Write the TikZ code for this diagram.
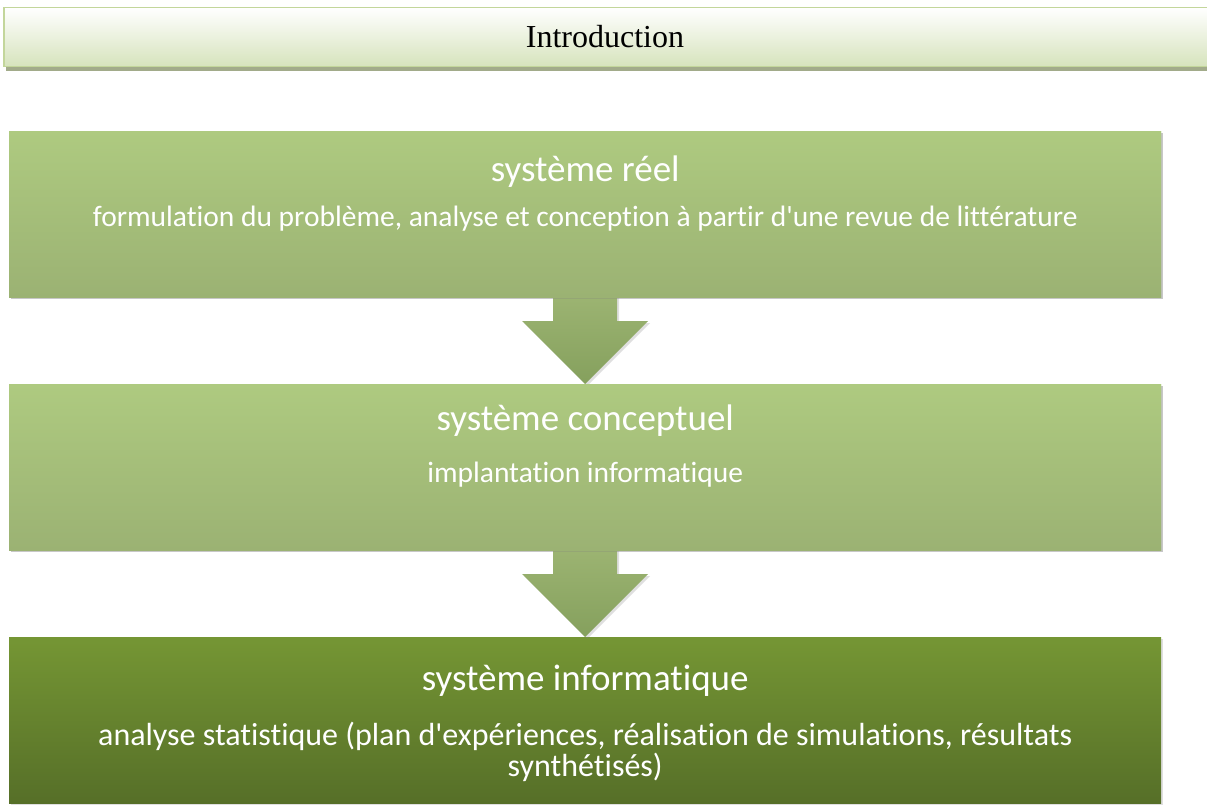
\documentclass[tikz,border=0pt]{standalone}
\usepackage{fontspec}
\setmainfont{Carlito}[Ligatures={TeXOff,NoCommon}]
\newfontfamily\introfont{Liberation Serif}
\usetikzlibrary{positioning,shadows,calc}

\definecolor{introtop}{HTML}{FFFFFF}
\definecolor{introbot}{HTML}{D6E3BC}
\definecolor{introline}{HTML}{C3D69B}
\definecolor{introshade}{HTML}{A2AB8A}
\definecolor{lighttop}{HTML}{AECA80}
\definecolor{lightbot}{HTML}{9BB273}
\definecolor{darktop}{HTML}{759634}
\definecolor{darkbot}{HTML}{566F28}
\definecolor{arrowtop}{HTML}{9CB472}
\definecolor{arrowbot}{HTML}{85A05D}

\tikzset{
  stage/.style={anchor=north west, inner sep=0pt, minimum width=1152pt,
    minimum height=166pt, top color=lighttop, bottom color=lightbot,
    drop shadow={shadow xshift=2pt, shadow yshift=-2pt, opacity=0.25}},
  darkstage/.style={stage, top color=darktop, bottom color=darkbot},
  stagetitle/.style={anchor=base, text=white, font=\fontsize{37}{40}\selectfont},
  stagetext/.style={anchor=base, text=white, align=center,
    font=\fontsize{29.5}{32}\selectfont},
  flowarrow/.style={top color=arrowtop, bottom color=arrowbot,
    drop shadow={shadow xshift=2pt, shadow yshift=-2pt, opacity=0.25}}
}

\begin{document}
\begin{tikzpicture}[x=1pt,y=-1pt]
\useasboundingbox (0,0) rectangle (1207,805);
% introduction banner
\fill[introshade] (6,12) rectangle (1210,71);
\node[anchor=north west, inner sep=0pt, minimum width=1204pt, minimum height=59pt,
  top color=introtop, bottom color=introbot, draw=introline, line width=1.5pt]
  (intro) at (3,7) {};
\node[anchor=base, font=\introfont\fontsize{32}{34}\selectfont] (introtxt)
  at (605,48) {Introduction};
% the three stages
\coordinate (s1) at (9,131);
\coordinate (s2) at (9,384);
\coordinate (s3) at (9,637);
\path (s1) node[stage] (box1) {};
\path (s2) node[stage] (box2) {};
\path (s3) node[darkstage] (box3) {};
% arrows between the stages (drawn under the boxes)
\foreach \a/\b in {box1/box2, box2/box3}{
  \path[flowarrow] ($(\a.south)+(-32,-2)$) -- ($(\b.north)+(-32,-63)$)
    -- ($(\b.north)+(-63,-63)$) -- (\b.north) -- ($(\b.north)+(63,-63)$)
    -- ($(\b.north)+(32,-63)$) -- ($(\a.south)+(32,-2)$) -- cycle;
}
\path (s1) node[stage] {};
\path (s2) node[stage] {};
% texts
\node[stagetitle] (t1) at ($(box1.north)+(0,51)$) {système réel};
\node[stagetext] (d1) at ($(box1.north)+(0,95)$)
  {formulation du problème, analyse et conception à partir d'une revue de littérature};
\node[stagetitle] (t2) at ($(box2.north)+(0,46)$) {système conceptuel};
\node[stagetext] (d2) at ($(box2.north)+(0,98)$) {implantation informatique};
\node[stagetitle] (t3) at ($(box3.north)+(0,53)$) {système informatique};
\node[stagetext, anchor=north, inner sep=0pt, font=\fontsize{32}{31}\selectfont]
  (d3) at ($(box3.north)+(0,85)$)
  {analyse statistique (plan d'expériences, réalisation de simulations, résultats\\
   synthétisés)};
\end{tikzpicture}
\end{document}
